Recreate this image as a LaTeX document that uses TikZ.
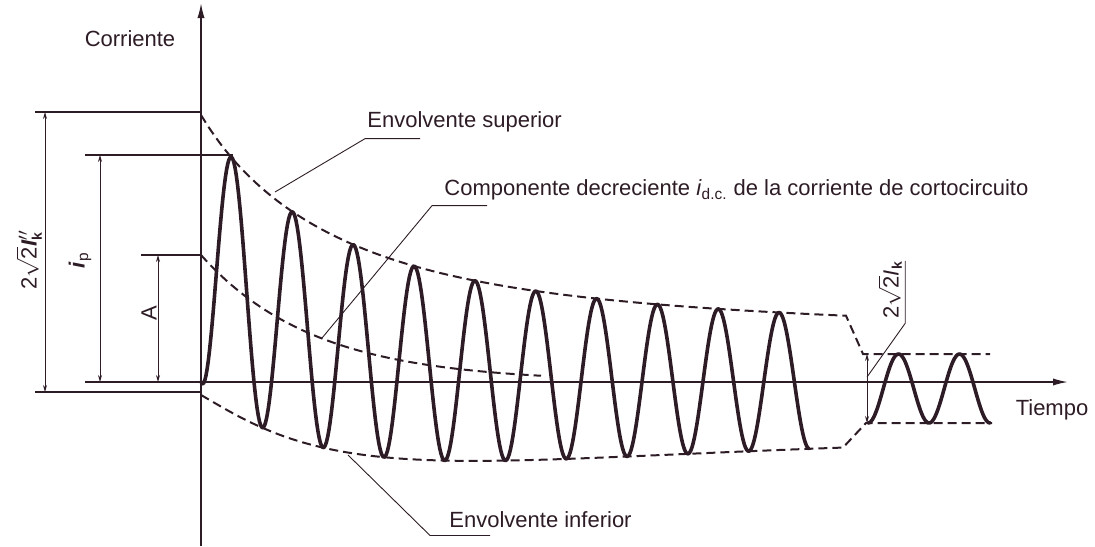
\documentclass[tikz,border=0pt]{standalone}
\usepackage{fontspec}
\setmainfont{Liberation Sans}
\usetikzlibrary{arrows.meta}
\definecolor{inkDark}{RGB}{45, 28, 38}

\begin{document}
\begin{tikzpicture}[
    x=0.5pt, y=-0.5pt,
    axis/.style={draw=inkDark, line width=0.8pt},
    axisarrow/.style={-{Latex[length=7.5pt, width=3.6pt]}},
    wave/.style={draw=inkDark, line width=1.8pt, line join=round, line cap=round},
    envelope/.style={draw=inkDark, line width=1pt, dash pattern=on 4.5pt off 2.5pt},
    extline/.style={draw=inkDark, line width=0.6pt},
    dimline/.style={draw=inkDark, line width=0.45pt, {Stealth[length=3.5pt, width=2pt]}-{Stealth[length=3.5pt, width=2pt]}},
    leader/.style={draw=inkDark, line width=0.45pt},
    label/.style={text=inkDark, font=\fontsize{11}{13}\selectfont, inner sep=1pt},
    declare function={dc(\s)=127*exp(-\s/113); ac(\s)=50+79.5*exp(-\s/400)+10.5*exp(-min(\s,200)/30); kick(\s)=13*exp(-min(\s,80)/10);}
]
    \useasboundingbox (0,0) rectangle (1095,546);

    % Axes
    \coordinate (O) at (201,382);
    \coordinate (yStart) at (201,546);
    \coordinate (yEnd) at (201,3);
    \coordinate (xStart) at (85,382);
    \coordinate (xEnd) at (1068,382);
    \draw[axis, axisarrow] (yStart) -- (yEnd);
    \draw[axis, axisarrow] (xStart) -- (xEnd);

    % Extension lines
    \draw[extline] (35,112) -- (201,112);
    \draw[extline] (35,392) -- (201,392);
    \draw[extline] (85,155) -- (233,155);
    \draw[extline] (141,255) -- (201,255);

    % Dimensions
    \draw[dimline] (45,112) -- (45,392);
    \draw[dimline] (100,155) -- (100,382);
    \draw[dimline] (158,255) -- (158,382);
    \draw[dimline] (867,354) -- (867,423);

    % Envelopes
    \draw[envelope] plot[domain=0:645, samples=130] ({201+\x}, {382-dc(\x)-ac(\x)}) -- (863,354) -- (990,354);
    \draw[envelope] plot[domain=0:642, samples=130] ({201+\x}, {382-dc(\x)+ac(\x)}) -- (866,423) -- (992,423);
    \draw[envelope] plot[domain=0:340, samples=80] ({201+\x}, {382-dc(\x)});

    % Current
    \draw[wave] plot[domain=0:608, samples=500] ({201+\x}, {382-dc(\x)-kick(\x)+ac(\x)*cos(360/60.8*(\x-0.5))});
    \draw[wave] plot[domain=0:122, samples=90] ({868+\x}, {388.5+34.5*cos(360/61*\x)});

    % Labels
    \node[label] (corr) at (130,39) {Corriente};
    \node[label] (tiempo) at (1052,410) {Tiempo};
    \node[label, rotate=90, inner sep=0pt] (ikLeft) at (29,260) {2$\sqrt{\mbox{2}}\mbox{\textbf{\textit{I}}}''_{\mbox{\scriptsize\bfseries k}}$};
    \node[label, rotate=90] (ipLabel) at (80,260) {\textbf{\textit{i}}\textsubscript{p}};
    \node[label, rotate=90] (aLabel) at (149,313) {A};
    \node[label, rotate=90, inner sep=0pt] (ikRight) at (890,290) {2$\sqrt{\mbox{2}}\mbox{\textit{I}}_{\mbox{\scriptsize\bfseries k}}$};

    \node[label, anchor=west] (envSup) at (365,122) {Envolvente superior};
    \node[label, anchor=west] (compDc) at (442,190) {Componente decreciente \textit{i}\textsubscript{d.c.} de la corriente de cortocircuito};
    \node[label, anchor=west] (envInf) at (447,520) {Envolvente inferior};

    % Leaders
    \coordinate (supTip) at (275,192);
    \coordinate (dcTip) at (322,338);
    \coordinate (infTip) at (348,455);
    \coordinate (ikTip) at (867,377);
    \draw[leader] ([xshift=27.5pt, yshift=-2pt]envSup.south west) -- ([yshift=-2pt]envSup.south west) -- (supTip);
    \draw[leader] ([xshift=22.5pt, yshift=-1.5pt]compDc.south west) -- ([xshift=-5pt, yshift=-1.5pt]compDc.south west) -- (dcTip);
    \draw[leader] ([xshift=21.5pt, yshift=-2.5pt]envInf.south west) -- ([xshift=-8.5pt, yshift=-2.5pt]envInf.south west) -- (infTip);
    \draw[leader] ([xshift=1.5pt]ikRight.south east) -- ([xshift=1.5pt, yshift=-2pt]ikRight.south west) -- (ikTip);
\end{tikzpicture}
\end{document}
